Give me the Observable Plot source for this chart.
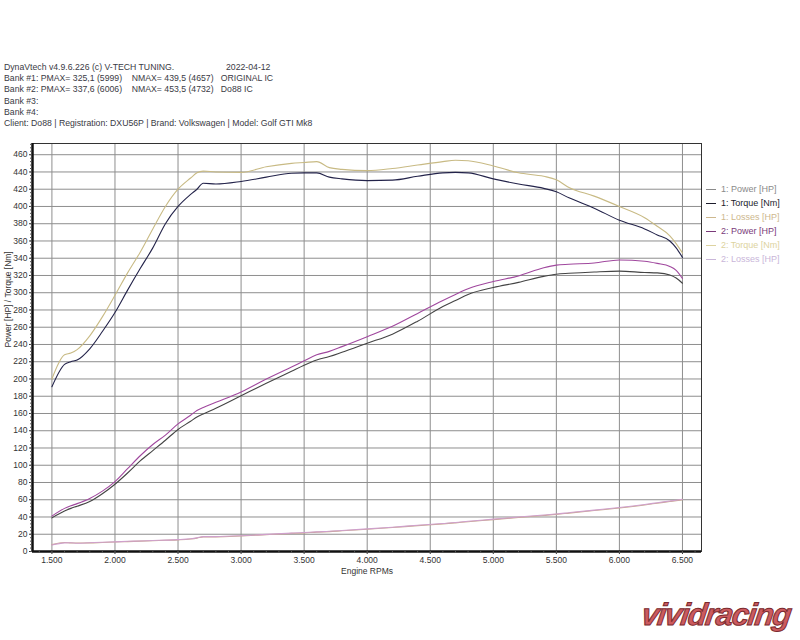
<!DOCTYPE html>
<html>
<head>
<meta charset="utf-8">
<script src="https://cdn.jsdelivr.net/npm/d3@7"></script>
<script src="https://cdn.jsdelivr.net/npm/@observablehq/plot@0.6"></script>
<style>
  html, body { margin: 0; padding: 0; background: #fff; }
  #wrap { position: relative; width: 800px; height: 640px; overflow: hidden; font-family: "Liberation Sans", Arial, sans-serif; }
  #chart { position: absolute; left: 0; top: 0; }
  .hdr { position: absolute; left: 4px; font-size: 8.7px; color: #3a3a44; white-space: pre; line-height: 1; }
  .leg { position: absolute; left: 706px; font-size: 9px; white-space: pre; line-height: 1; }
  .leg span.sw { display: inline-block; width: 10px; height: 0; border-top: 1.3px solid; vertical-align: middle; margin-right: 5px; }
  #logo { position: absolute; left: 642px; top: 599px; font-family: "Liberation Sans", Arial, sans-serif; font-weight: bold; font-style: italic; font-size: 31px; letter-spacing: -1.4px; line-height: 1; color: #cc5a5e; -webkit-text-stroke: 1px #7a2a2e; transform: skewX(-8deg); }
</style>
</head>
<body>
<div id="wrap">
  <div id="chart"></div>
</div>
<script>
// ---- data ----
const rpm = [1500,1600,1650,1700,1800,1900,2000,2100,2200,2300,2400,2500,2600,2650,2700,2800,3000,3200,3400,3500,3600,3700,3800,4000,4200,4400,4600,4700,4800,5000,5200,5400,5500,5600,5800,6000,6200,6300,6400,6450,6500];
const power1 = [39,47,50,52.5,58,67,78,91,105,117,129,141.5,151,156,159.5,166,180.5,195,209,216,222,226,231,241.5,252,267,284,291,298,306,312,319,321.5,322.5,324,325,323.5,323,320.5,317,311];
const torque1 = [191,217,220,222,235,255,277,303,328,352,380,400,414,420,427,426,429,434,438.5,439,439,434,432,430,430.5,435,439,439.5,439,432,426,421,417,410,398,384,374,367,360,352,341];
const losses1 = [8,10.5,10,9.8,10,10.5,11,11.5,12,12.5,13,13.5,14.5,15.5,17,17,18,19.5,21,21.5,22.5,23,24,25.8,27.8,30,32,33.2,34.5,37,39.5,41.8,43,44.5,47.5,50.5,54,56,58,59,60];
const power2 = [41,50,53,55.5,61.5,70,81,96,111,124,135,148,158,163.5,167,173,185,200,214,221,228,232,237.5,249,261,276,291,298,304.5,313,319.5,329,332,333,334.5,338,336.5,334,330.5,326,316.5];
const torque2 = [200,228,230,234,250,272,297,323,347,374,400,420,433,439,441,440,439.5,446,450,451,452,445,443,441.5,444,448,452,453.5,453,447,439,435,431,422,412,400,387,377,366,357,346];
const losses2 = [7.5,10,10.2,9.5,10.2,10.8,11.2,11.8,12.2,12.8,13.2,13.8,14.8,15.8,17.2,17.3,18.3,19.8,21.3,22,22.8,23.4,24.3,26.2,28.2,30.4,32.5,33.6,35,37.5,40,42.3,43.5,45,48,51,54.5,56.5,58.5,59.5,60.5];

const seriesNames = ["1: Power [HP]","1: Torque [Nm]","1: Losses [HP]","2: Power [HP]","2: Torque [Nm]","2: Losses [HP]"];
const seriesValues = [power1, torque1, losses1, power2, torque2, losses2];
const seriesColors = ["#444444","#23234a","#c9a88c","#a0489e","#c8ba84","#cfa0cc"];
const legendColors = ["#8a8a8a","#1c1c2c","#cdb88e","#7a3a7a","#ddd3a0","#c9b6d9"];

const yTicks = d3.range(0, 461, 20);
const xTicks = d3.range(1500, 6501, 500);

const headerLines = [
  "DynaVtech v4.9.6.226 (c) V-TECH TUNING.",
  "Bank #1: PMAX= 325,1 (5999)    NMAX= 439,5 (4657)   ORIGINAL IC",
  "Bank #2: PMAX= 337,6 (6006)    NMAX= 453,5 (4732)   Do88 IC",
  "Bank #3:",
  "Bank #4:",
  "Client: Do88 | Registration: DXU56P | Brand: Volkswagen | Model: Golf GTI Mk8"
];
const headerDate = "2022-04-12";
const xLabel = "Engine RPMs";
const yLabel = "Power [HP] / Torque [Nm]";
const logoText = "vividracing";

// ---- build table ----
const rows = [];
seriesNames.forEach((name, i) => {
  rpm.forEach((r, j) => rows.push({series: name, rpm: r, value: seriesValues[i][j]}));
});

const fmtX = d => d3.format(",")(d).replace(",", ".");
const xMin = 1346, xMax = 6651;

const chart = Plot.plot({
  width: 800,
  height: 640,
  marginLeft: 32,
  marginRight: 99,
  marginTop: 143,
  marginBottom: 89,
  x: {domain: [xMin, xMax], axis: null},
  y: {domain: [0, 473], axis: null},
  color: {domain: seriesNames, range: seriesColors},
  style: {fontFamily: "Liberation Sans, Arial, sans-serif", background: "white"},
  marks: [
    Plot.gridY(yTicks, {stroke: "#8e8e8e", strokeOpacity: 1, strokeWidth: 1}),
    Plot.gridX(xTicks, {stroke: "#8e8e8e", strokeOpacity: 1, strokeWidth: 1}),
    Plot.line(rows, {x: "rpm", y: "value", z: "series", stroke: "series", strokeWidth: 1.1, curve: "monotone-x"}),
    Plot.frame({stroke: "#333", strokeWidth: 1}),
    Plot.ruleX([xMin], {stroke: "#111", strokeWidth: 2.5}),
    Plot.ruleY([0], {stroke: "#111", strokeWidth: 2.5}),
    Plot.axisY(yTicks, {tickSize: 3, tickPadding: 2, fontSize: 8.5, color: "#333", label: null}),
    Plot.axisY(d3.range(0, 473, 4), {tickSize: 2, tickFormat: () => "", color: "#555", label: null}),
    Plot.axisX(xTicks, {tickSize: 3, tickPadding: 2, fontSize: 8.5, color: "#333", tickFormat: fmtX, label: null}),
    Plot.axisX(d3.range(1400, 6651, 100), {tickSize: 2, tickFormat: () => "", color: "#555", label: null}),
    Plot.text([xLabel], {frameAnchor: "bottom", dy: 22, text: d => d, fontSize: 8.5, fill: "#333"}),
    Plot.text([yLabel], {frameAnchor: "left", dx: -24, rotate: -90, text: d => d, fontSize: 8.5, fill: "#333"})
  ]
});
document.getElementById("chart").appendChild(chart);

const wrap = document.getElementById("wrap");
headerLines.forEach((t, i) => {
  const d = document.createElement("div");
  d.className = "hdr";
  d.style.top = (63 + i * 11.2) + "px";
  d.textContent = t;
  wrap.appendChild(d);
});
const dd = document.createElement("div");
dd.className = "hdr";
dd.style.left = "226px";
dd.style.top = "63px";
dd.textContent = headerDate;
wrap.appendChild(dd);

seriesNames.forEach((name, i) => {
  const d = document.createElement("div");
  d.className = "leg";
  d.style.top = (185 + i * 13.9) + "px";
  d.style.color = legendColors[i];
  const sw = document.createElement("span");
  sw.className = "sw";
  sw.style.borderColor = legendColors[i];
  d.appendChild(sw);
  d.appendChild(document.createTextNode(name));
  wrap.appendChild(d);
});

const logo = document.createElement("div");
logo.id = "logo";
logo.textContent = logoText;
wrap.appendChild(logo);
</script>
</body>
</html>
